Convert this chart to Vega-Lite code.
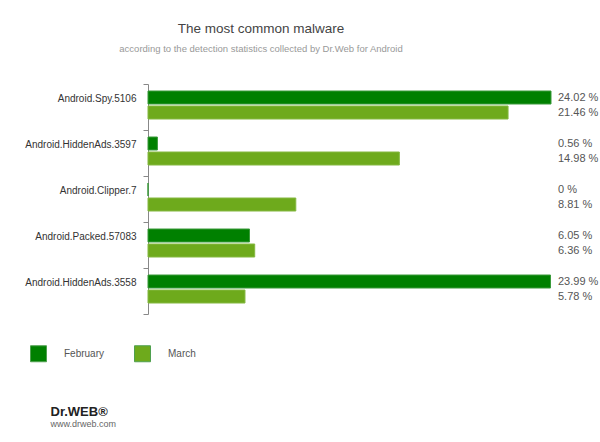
{
  "$schema": "https://vega.github.io/schema/vega-lite/v6.json",
  "width": 403,
  "height": 230,
  "autosize": {"type": "none"},
  "padding": {"left": 148, "top": 84, "right": 49, "bottom": 128},
  "background": "white",
  "config": {"view": {"stroke": null}},
  "title": {
    "text": "The most common malware",
    "subtitle": "according to the detection statistics collected by Dr.Web for Android",
    "anchor": "middle",
    "frame": "group",
    "dx": -88.5,
    "offset": 26,
    "font": "Liberation Sans",
    "fontSize": 13.5,
    "fontWeight": "normal",
    "color": "#444444",
    "subtitleFont": "Liberation Sans",
    "subtitleFontSize": 9.5,
    "subtitleColor": "#999999",
    "subtitlePadding": 8
  },
  "data": {
    "values": [
      {"malware": "Android.Spy.5106", "month": "February", "value": 24.02},
      {"malware": "Android.Spy.5106", "month": "March", "value": 21.46},
      {"malware": "Android.HiddenAds.3597", "month": "February", "value": 0.56},
      {"malware": "Android.HiddenAds.3597", "month": "March", "value": 14.98},
      {"malware": "Android.Clipper.7", "month": "February", "value": 0},
      {"malware": "Android.Clipper.7", "month": "March", "value": 8.81},
      {"malware": "Android.Packed.57083", "month": "February", "value": 6.05},
      {"malware": "Android.Packed.57083", "month": "March", "value": 6.36},
      {"malware": "Android.HiddenAds.3558", "month": "February", "value": 23.99},
      {"malware": "Android.HiddenAds.3558", "month": "March", "value": 5.78}
    ]
  },
  "transform": [{"calculate": "format(datum.value, '~g') + ' %'", "as": "label"}],
  "encoding": {
    "y": {
      "field": "malware",
      "type": "nominal",
      "sort": null,
      "scale": {"paddingInner": 0, "paddingOuter": 0},
      "axis": {
        "title": "www.drweb.com",
        "titleAngle": 0,
        "titleX": -98,
        "titleY": 342,
        "titleAlign": "left",
        "titleBaseline": "alphabetic",
        "titleFont": "Liberation Sans",
        "titleFontSize": 9,
        "titleFontWeight": "normal",
        "titleColor": "#666666",
        "bandPosition": 1,
        "tickExtra": true,
        "labelOffset": -8.5,
        "labelFont": "Liberation Sans",
        "labelFontSize": 10,
        "labelColor": "#333333",
        "labelPadding": 7,
        "labelBaseline": "middle",
        "tickSize": 5,
        "tickColor": "#888888",
        "domainColor": "#888888",
        "grid": false
      }
    },
    "yOffset": {
      "field": "month",
      "sort": ["February", "March"],
      "scale": {"paddingInner": 0.1333, "paddingOuter": 0.6, "align": 0.389}
    }
  },
  "layer": [
    {
      "mark": {"type": "bar", "strokeWidth": 1},
      "encoding": {
        "x": {
          "field": "value",
          "type": "quantitative",
          "scale": {"domain": [0, 24.02], "nice": false},
          "axis": {
            "title": "Dr.WEB®",
            "labels": false,
            "ticks": false,
            "domain": false,
            "grid": false,
            "titleX": -98,
            "titleY": 101,
            "titleAlign": "left",
            "titleBaseline": "alphabetic",
            "titleFont": "Liberation Sans",
            "titleFontSize": 13,
            "titleFontWeight": "bold",
            "titleColor": "#222222"
          }
        },
        "color": {
          "field": "month",
          "type": "nominal",
          "sort": ["February", "March"],
          "scale": {"range": ["#008000", "#6eaa1c"]},
          "legend": {
            "title": null,
            "orient": "none",
            "legendX": -118,
            "legendY": 261,
            "direction": "horizontal",
            "symbolType": "square",
            "symbolSize": 256,
            "symbolStrokeWidth": 1,
            "symbolStrokeColor": "#4fa04f",
            "labelOffset": 17,
            "columnPadding": 27,
            "labelFont": "Liberation Sans",
            "labelFontSize": 10,
            "labelColor": "#555555",
            "padding": 0
          }
        },
        "stroke": {
          "field": "month",
          "type": "nominal",
          "sort": ["February", "March"],
          "scale": {"range": ["#3a9a3a", "#84b840"]},
          "legend": null
        }
      }
    },
    {
      "mark": {
        "type": "text",
        "align": "left",
        "baseline": "middle",
        "dx": 7,
        "font": "Liberation Sans",
        "fontSize": 11,
        "color": "#555555"
      },
      "encoding": {
        "x": {"datum": 24.02, "type": "quantitative"},
        "text": {"field": "label"}
      }
    }
  ]
}
